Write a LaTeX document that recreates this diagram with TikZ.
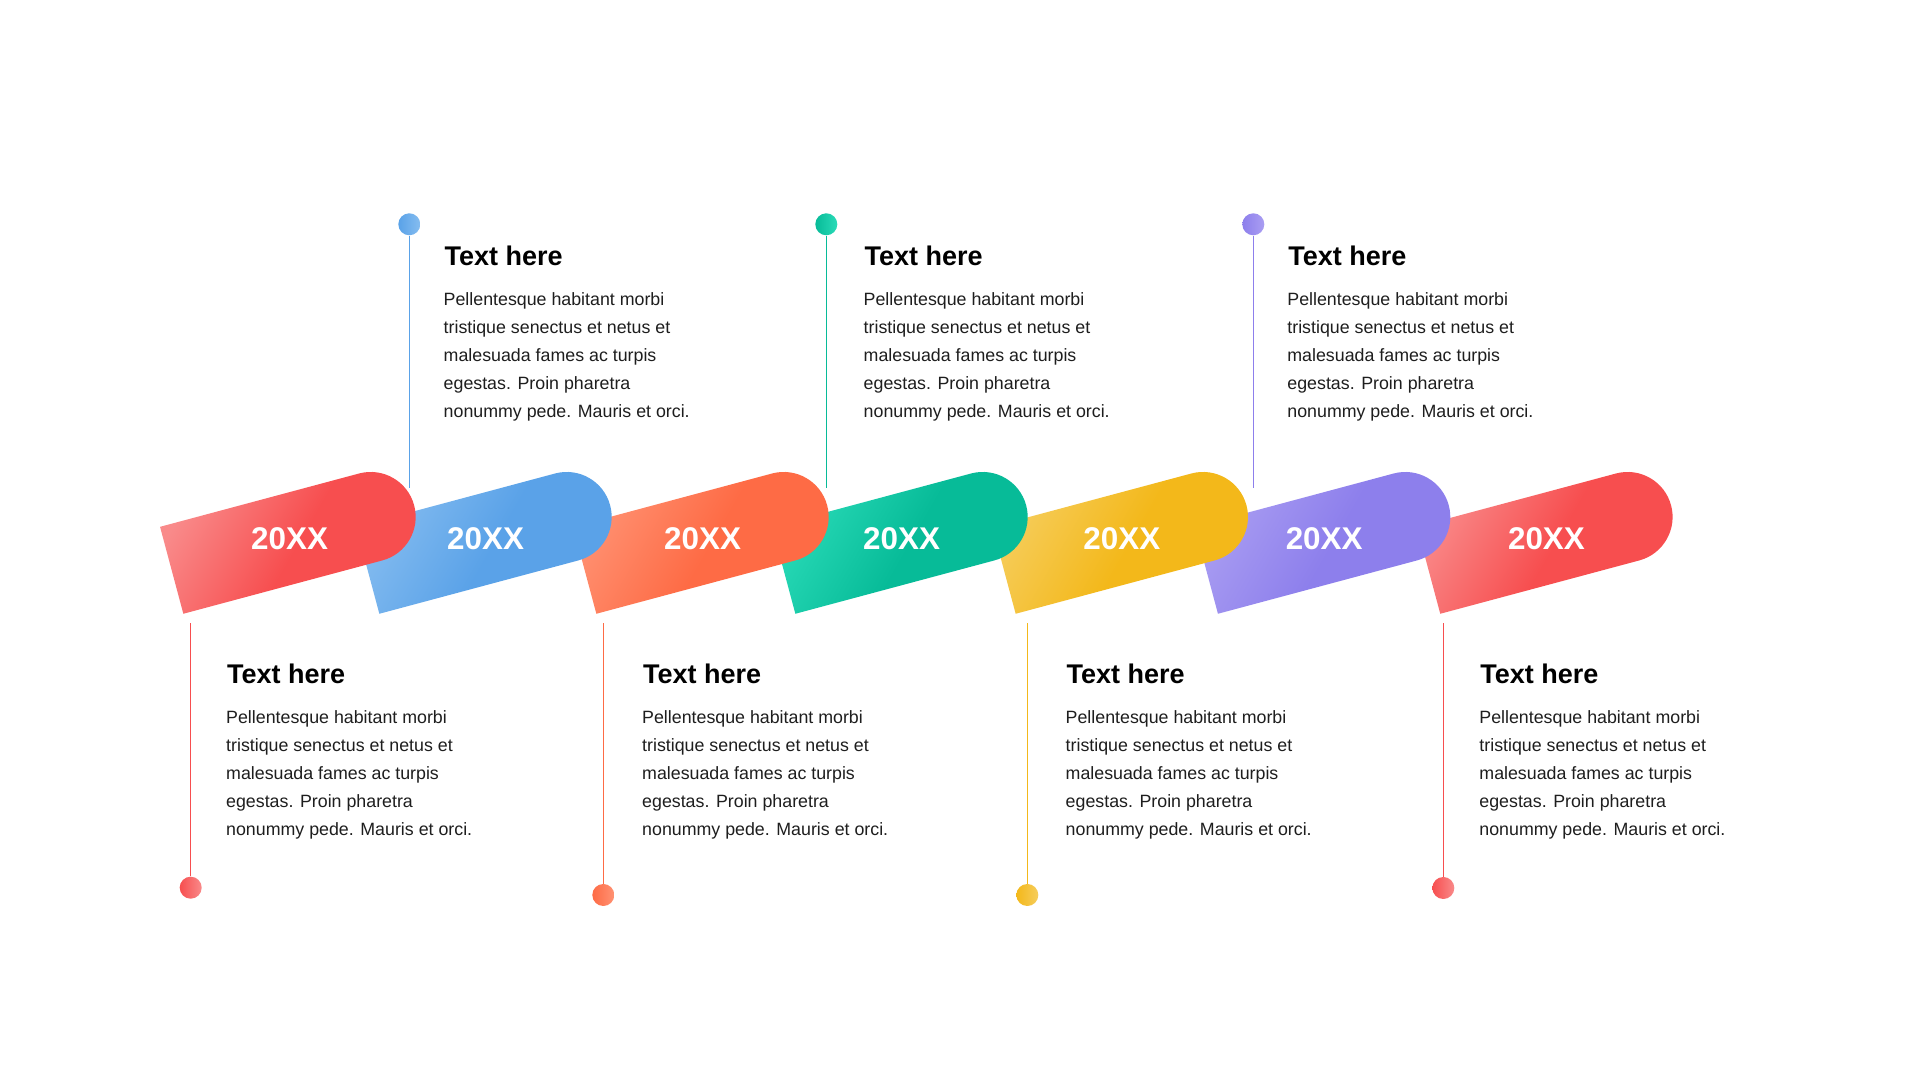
\documentclass[tikz,border=0pt]{standalone}
\usepackage{fontspec}
\setmainfont{Liberation Sans}
\definecolor{cRed}{HTML}{F74E4F}\definecolor{lRed}{HTML}{F98A8A}
\definecolor{cBlue}{HTML}{5AA2E8}\definecolor{lBlue}{HTML}{86BDF0}
\definecolor{cOrange}{HTML}{FE6B45}\definecolor{lOrange}{HTML}{FF9273}
\definecolor{cGreen}{HTML}{07BB98}\definecolor{lGreen}{HTML}{2ADBB8}
\definecolor{cYellow}{HTML}{F3B81A}\definecolor{lYellow}{HTML}{F6CD5C}
\definecolor{cPurple}{HTML}{8D7FEC}\definecolor{lPurple}{HTML}{AA9EF2}
\definecolor{bodygray}{HTML}{1E1E1E}
\colorlet{bandlight}{lRed}\colorlet{bandmain}{cRed}
\pgfdeclarehorizontalshading[bandlight,bandmain]{bandshade}{100bp}{color(0bp)=(bandlight); color(25bp)=(bandlight); color(52bp)=(bandmain); color(100bp)=(bandmain)}
\tikzset{
  yeartext/.style={text=white, font=\fontsize{15.7}{18}\selectfont\bfseries, inner sep=0pt},
  titletext/.style={anchor=base west, inner sep=0pt, text=black, font=\fontsize{13.5}{16}\selectfont\bfseries},
  bodytext/.style={anchor=base west, inner sep=0pt, text=bodygray, font=\fontsize{8.9}{14}\selectfont},
  dotnode/.style={circle, inner sep=0pt, minimum size=11pt, draw=none},
  stem/.style={line width=0.6pt},
}
\newcommand{\tlband}[4]{%
  \colorlet{bandlight}{#3}\colorlet{bandmain}{#4}%
  \begin{scope}[shift={(#2,509.7)}, rotate=15]
    \path[shading=bandshade, shading angle=-30] (0,-45) -- (206,-45) arc[start angle=-90, end angle=90, radius=45] -- (0,45) -- cycle;
    \node[yeartext] (#1) at (122,0) {20XX};
  \end{scope}}
\newcommand{\tlbody}{\begin{tabular}[t]{@{}l@{}}Pellentesque habitant morbi\\tristique senectus et netus et\\malesuada fames ac turpis\\egestas. Proin pharetra\\nonummy pede. Mauris et orci.\end{tabular}}
\newcommand{\tlitem}[8]{% name, line x, dot y, end y, color, light, text x, title y
  \coordinate (#1e) at (#2,#4);
  \node[dotnode, left color=#5, right color=#6] (#1d) at (#2,#3) {};
  \draw[stem, #5] (#1d) -- (#1e);
  \node[titletext] (#1t) at (#7+1,#8) {Text here};
  \node[bodytext] (#1b) at (#7,#8-40) {\renewcommand{\arraystretch}{1}\tlbody};
}
\begin{document}
\begin{tikzpicture}[x=0.5pt,y=0.5pt]
\useasboundingbox (0,0) rectangle (1920,1080);
\fill[white] (0,0) rectangle (1920,1080);
% top items
\tlitem{b}{409.3}{855.7}{592}{cBlue}{lBlue}{443.3}{814}
\tlitem{g}{826.3}{855.7}{592}{cGreen}{lGreen}{863.3}{814}
\tlitem{p}{1253.3}{855.7}{592}{cPurple}{lPurple}{1287}{814}
% bottom items
\tlitem{r}{190.7}{192.3}{456.5}{cRed}{lRed}{225.8}{396}
\tlitem{o}{603.3}{185}{456.5}{cOrange}{lOrange}{641.8}{396}
\tlitem{y}{1027.3}{185}{456.5}{cYellow}{lYellow}{1065.3}{396}
\tlitem{s}{1443.3}{192}{456.5}{cRed}{lRed}{1479}{396}
% bands, last first so earlier ones lie on top
\tlband{y7}{1428.6}{lRed}{cRed}
\tlband{y6}{1206.3}{lPurple}{cPurple}
\tlband{y5}{1004}{lYellow}{cYellow}
\tlband{y4}{783.7}{lGreen}{cGreen}
\tlband{y3}{584.7}{lOrange}{cOrange}
\tlband{y2}{367.7}{lBlue}{cBlue}
\tlband{y1}{171.7}{lRed}{cRed}
\end{tikzpicture}
\end{document}
